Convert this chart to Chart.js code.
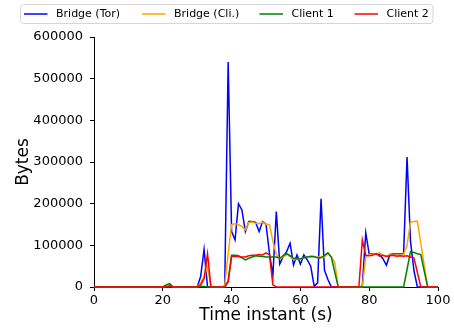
<!DOCTYPE html>
<html>
<head>
<meta charset="utf-8">
<script src="https://cdn.jsdelivr.net/npm/chart.js@4/dist/chart.umd.min.js"></script>
<style>
html,body{margin:0;padding:0;background:#fff;}
#c{display:block;}
</style>
</head>
<body>
<canvas id="c" width="454" height="330"></canvas>
<script>
const times = [0,1,2,3,4,5,6,7,8,9,10,11,12,13,14,15,16,17,18,19,20,21,22,23,24,25,26,27,28,29,30,31,32,33,34,35,36,37,38,39,40,41,42,43,44,45,46,47,48,49,50,51,52,53,54,55,56,57,58,59,60,61,62,63,64,65,66,67,68,69,70,71,72,73,74,75,76,77,78,79,80,81,82,83,84,85,86,87,88,89,90,91,92,93,94,95,96,97,98,99,100];
const seriesNames = ["Bridge (Tor)", "Bridge (Cli.)", "Client 1", "Client 2"];
const bridgeTor = [
0,0,0,0,0,0,0,0,0,0,
0,0,0,0,0,0,0,0,0,0,
0,0,0,0,0,0,0,0,0,0,
0,25000,90000,0,0,0,0,0,2000,540000,
133000,113000,200000,185000,133000,157000,157000,155000,133000,157000,
151000,81000,28000,181000,55000,73000,85000,105000,53000,77000,
55000,77000,65000,50000,2000,10000,212000,40000,18000,0,
0,0,0,0,0,0,0,0,2000,130000,
79000,79000,79000,78000,68000,52000,78000,79000,79000,79000,
79000,312000,110000,40000,0,0,0,0,0,0,
0];
const bridgeCli = [
0,0,0,0,0,0,0,0,0,0,
0,0,0,0,0,0,0,0,0,0,
0,4000,6000,0,0,0,0,0,0,0,
0,10000,25000,48000,0,0,0,0,3000,80000,
150000,152000,150000,145000,137000,155000,156000,153000,152000,155000,
150000,150000,110000,78000,68000,72000,79000,73000,66000,66000,
67000,70000,72000,72000,72000,72000,72000,72000,80000,72000,
58000,0,0,0,0,0,0,0,0,72000,
78000,78000,80000,82000,76000,75000,77000,77000,77000,77000,
78000,100000,156000,157000,158000,105000,52000,0,0,0,
0];
const client1 = [
0,0,0,0,0,0,0,0,0,0,
0,0,0,0,0,0,0,0,0,0,
0,5000,8000,0,0,0,0,0,0,0,
0,1500,1000,0,0,0,0,0,0,15000,
76000,76000,75000,70000,65000,69000,72000,75000,74000,73000,
72000,72000,72000,72000,69000,75000,80000,75000,69000,67000,
68000,70000,72000,74000,73000,70000,70000,76000,82000,72000,
35000,0,0,0,0,0,0,0,0,0,
0,0,0,0,0,0,0,0,0,0,
0,42000,85000,83000,80000,78000,38000,0,0,0,
0];
const client2 = [
0,0,0,0,0,0,0,0,0,0,
0,0,0,0,0,0,0,0,0,0,
0,0,3000,0,0,0,0,0,0,0,
0,5000,20000,80000,0,0,0,0,0,12000,
74000,73000,73000,72000,72000,75000,76000,76000,78000,77000,
82000,77000,5000,0,0,0,0,0,0,0,
0,0,0,0,0,0,0,0,0,0,
0,0,0,0,0,0,0,0,113000,76000,
75000,76000,80000,74000,76000,73000,75000,76000,74000,75000,
74000,75000,72000,70000,35000,0,0,0,0,0,
0];
const xTicks = [0,20,40,60,80,100];
const yTicks = [0,100000,200000,300000,400000,500000,600000];
const xTitle = "Time instant (s)";
const yTitle = "Bytes";
const colors = ["blue","orange","green","red"];

const allSeries = [bridgeTor, bridgeCli, client1, client2];
const FONT = "'DejaVu Sans', sans-serif";

const legendPlugin = {
  id: 'boxLegend',
  afterDraw(chart) {
    const ctx = chart.ctx;
    ctx.save();
    const x0 = 20.5, y0 = 4.5, w = 412.5, h = 19;
    const r = 3;
    ctx.beginPath();
    ctx.moveTo(x0 + r, y0);
    ctx.lineTo(x0 + w - r, y0);
    ctx.arcTo(x0 + w, y0, x0 + w, y0 + r, r);
    ctx.lineTo(x0 + w, y0 + h - r);
    ctx.arcTo(x0 + w, y0 + h, x0 + w - r, y0 + h, r);
    ctx.lineTo(x0 + r, y0 + h);
    ctx.arcTo(x0, y0 + h, x0, y0 + h - r, r);
    ctx.lineTo(x0, y0 + r);
    ctx.arcTo(x0, y0, x0 + r, y0, r);
    ctx.closePath();
    ctx.fillStyle = 'rgba(255,255,255,0.8)';
    ctx.fill();
    ctx.strokeStyle = '#d6d6d6';
    ctx.lineWidth = 1;
    ctx.stroke();
    const starts = [24, 142, 259.5, 354.5];
    ctx.font = "11px " + FONT;
    ctx.textBaseline = 'middle';
    ctx.textAlign = 'left';
    const cy = 14;
    chart.data.datasets.forEach((ds, i) => {
      ctx.beginPath();
      ctx.strokeStyle = ds.borderColor;
      ctx.lineWidth = 1.5;
      ctx.moveTo(starts[i], cy);
      ctx.lineTo(starts[i] + 23.5, cy);
      ctx.stroke();
      ctx.fillStyle = '#000';
      ctx.fillText(ds.label, starts[i] + 32, cy + 0.5);
    });
    ctx.restore();
  }
};

const datasets = allSeries.map((arr, i) => ({
  label: seriesNames[i],
  data: arr.map((v, j) => ({x: times[j], y: v})),
  borderColor: colors[i],
  backgroundColor: colors[i],
  borderWidth: 1.5,
  pointRadius: 0,
  tension: 0,
  fill: false,
  clip: 4,
  order: 4 - i
}));

new Chart(document.getElementById('c'), {
  type: 'line',
  data: { datasets },
  options: {
    responsive: false,
    animation: false,
    devicePixelRatio: 1,
    layout: { padding: { top: 37, right: 16, left: 0, bottom: 0 } },
    plugins: { legend: { display: false }, tooltip: { enabled: false } },
    scales: {
      x: {
        type: 'linear',
        min: 0, max: 100,
        afterFit(scale) { scale.height = 43; },
        afterBuildTicks(scale) { scale.ticks = xTicks.map(v => ({value: v})); },
        ticks: { color: '#000', font: { family: FONT, size: 13 }, padding: 2, maxRotation: 0, autoSkip: false },
        grid: { display: true, drawOnChartArea: false, drawTicks: true, tickLength: 4, color: '#000', tickWidth: 1 },
        border: { display: true, color: '#000', width: 1 },
        title: { display: true, text: xTitle, color: '#000', font: { family: FONT, size: 17 }, padding: { top: 0, bottom: 4 } }
      },
      y: {
        type: 'linear',
        min: 0, max: 600000,
        afterFit(scale) { scale.width = 94; },
        afterBuildTicks(scale) { scale.ticks = yTicks.map(v => ({value: v})); },
        ticks: { color: '#000', font: { family: FONT, size: 13 }, padding: 7, autoSkip: false, callback: v => String(v) },
        grid: { display: true, drawOnChartArea: false, drawTicks: true, tickLength: 4, color: '#000', tickWidth: 1 },
        border: { display: true, color: '#000', width: 1 },
        title: { display: true, text: yTitle, color: '#000', font: { family: FONT, size: 17 }, padding: { top: 13, bottom: 0 } }
      }
    }
  },
  plugins: [legendPlugin]
});
</script>
</body>
</html>
